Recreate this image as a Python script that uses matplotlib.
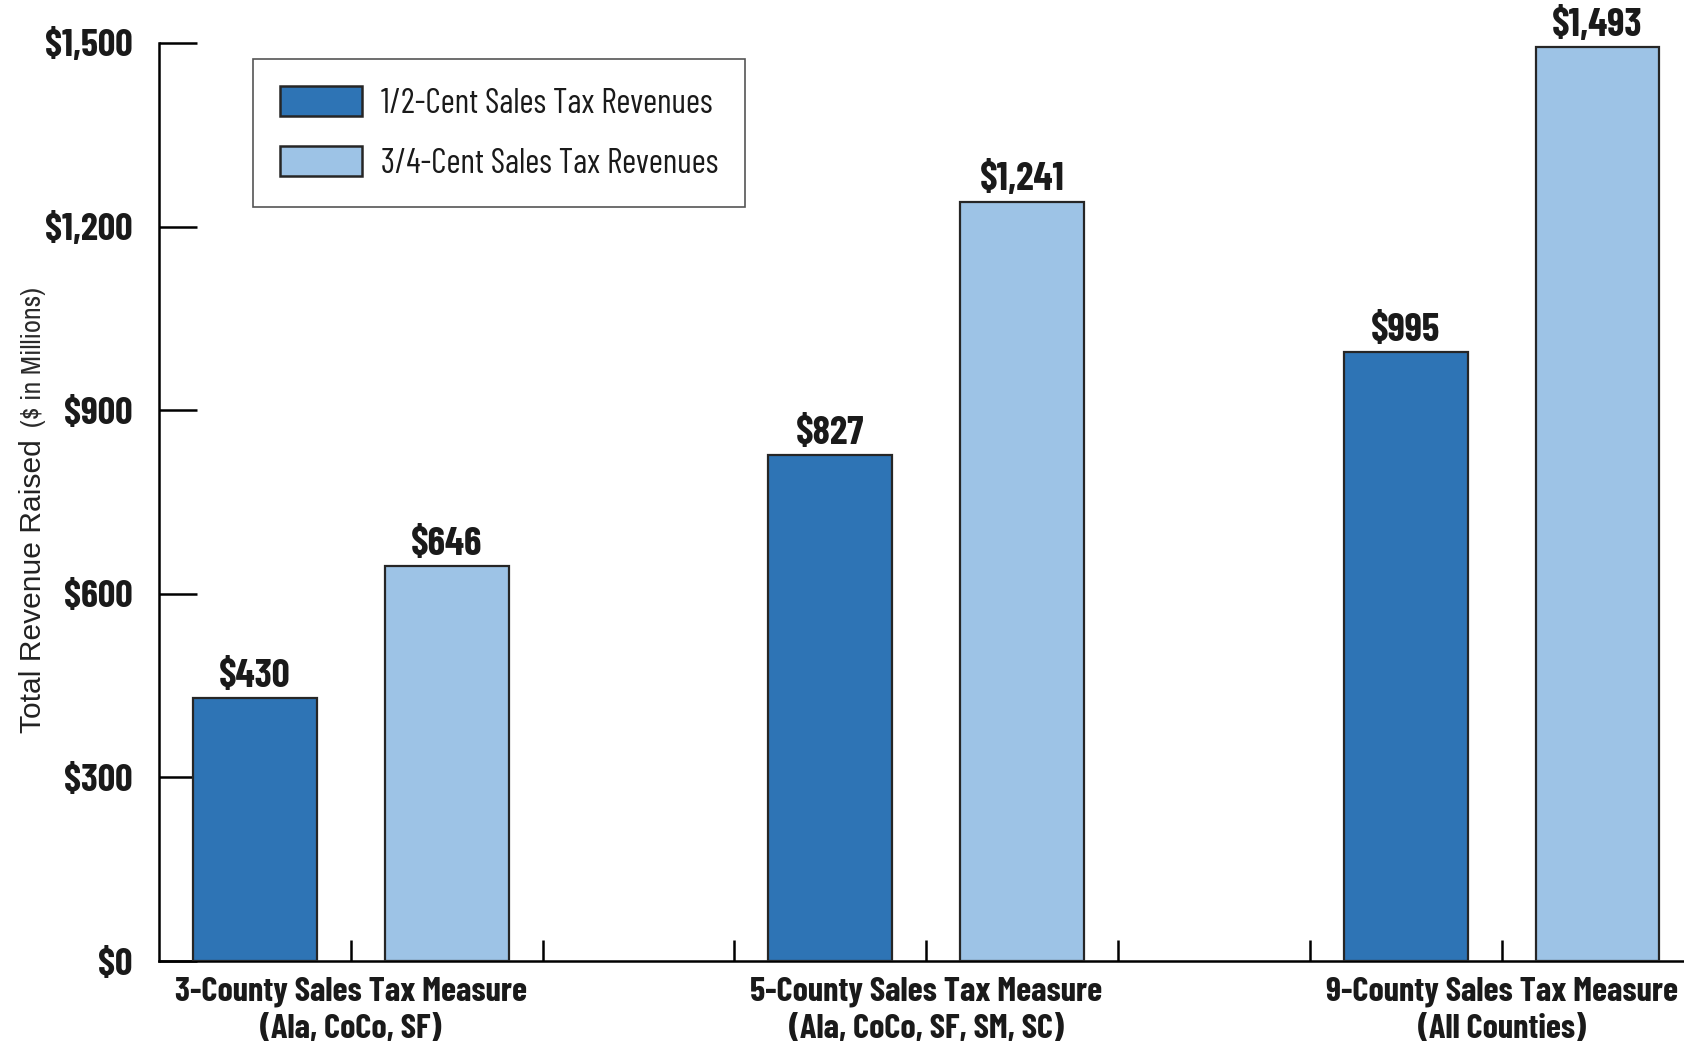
# -*- coding: utf-8 -*-
# Bay Area sales tax measures - revenue by tax rate (grouped bar chart)

import matplotlib
matplotlib.use("Agg")
import matplotlib.pyplot as plt
from matplotlib.patches import Patch

# ── data ─────────────────────────────────────────────
categories = [
    "3-County Sales Tax Measure\n(Ala, CoCo, SF)",
    "5-County Sales Tax Measure\n(Ala, CoCo, SF, SM, SC)",
    "9-County Sales Tax Measure\n(All Counties)",
]
series_names = ["1/2-Cent Sales Tax Revenues", "3/4-Cent Sales Tax Revenues"]
half_cent = [430, 827, 995]
three_quarter_cent = [646, 1241, 1493]
y_ticks = [0, 300, 600, 900, 1200, 1500]

DARK = "#2e74b5"
LIGHT = "#9dc3e6"
EDGE = "#262626"
INK = "#1a1a1a"
COND = ["Barlow Condensed", "DejaVu Sans"]

plt.rcParams["font.family"] = COND

W, H = 1684, 1044
fig = plt.figure(figsize=(W / 100, H / 100), dpi=100)
renderer = fig.canvas.get_renderer()


def fit_size(sample, target_px, **kw):
    """font size (pt) so that `sample` is target_px wide"""
    t = fig.text(0, 0, sample, fontsize=20, **kw)
    w = t.get_window_extent(renderer).width
    t.remove()
    return 20 * target_px / w


fs_cat = fit_size("3-County Sales Tax Measure", 352, fontweight="bold")
fs_val = fit_size("$430", 72, fontweight="bold")
fs_tick = fit_size("$1,500", 88, fontweight="bold")
fs_leg = fit_size(series_names[0], 332)
fs_yl1 = fit_size("Total Revenue Raised", 293, family=["Liberation Sans"])
fs_yl2 = fit_size("($ in Millions)", 140, family=["Archivo Narrow"])

ax = fig.add_axes([159 / W, 83 / H, (W - 159) / W, 918 / H])

# group centers at 1, 4, 7 ; bars at center -/+ 0.5
centers = [1 + 3 * i for i in range(len(categories))]
bar_w = 0.645
for vals, off, col in [(half_cent, -0.5, DARK), (three_quarter_cent, 0.5, LIGHT)]:
    xs = [c + off for c in centers]
    bars = ax.bar(xs, vals, width=bar_w, color=col, edgecolor=EDGE,
                  linewidth=1.6, zorder=3)
    for b, v in zip(bars, vals):
        ax.annotate(f"${v:,}", (b.get_x() + b.get_width() / 2, v),
                    xytext=(0, 8), textcoords="offset points",
                    ha="center", va="baseline", fontsize=fs_val,
                    fontweight="bold", color=INK)

ax.set_xlim(0, (W - 159) / 191.8)
ax.set_ylim(0, 1500)

# y axis
ax.set_yticks(y_ticks)
ax.set_yticklabels([f"${v:,}" for v in y_ticks], fontsize=fs_tick,
                   fontweight="bold", color=INK)
ax.tick_params(axis="y", direction="in", length=27, width=1.8, pad=19)

# x axis: separator ticks + category labels as minor ticks
ax.xaxis.remove_overlapping_locs = False
ax.set_xticks(range(1, 8))
ax.set_xticklabels([])
ax.tick_params(axis="x", which="major", direction="in", length=15, width=1.8)
ax.set_xticks(centers, minor=True)
ax.set_xticklabels(categories, minor=True, fontsize=fs_cat, fontweight="bold",
                   color=INK, linespacing=1.3)
ax.tick_params(axis="x", which="minor", length=0, pad=11)

for s in ["top", "right"]:
    ax.spines[s].set_visible(False)
for s in ["left", "bottom"]:
    ax.spines[s].set_linewidth(1.8)

# legend
F = fs_leg * 100 / 72  # font size in px
handles = [Patch(facecolor=DARK, edgecolor=EDGE, linewidth=1.8),
           Patch(facecolor=LIGHT, edgecolor=EDGE, linewidth=1.8)]
leg = ax.legend(handles, series_names, loc="upper left",
                bbox_to_anchor=((253 - 159) / (W - 159), (961 - 59) / 918),
                borderaxespad=0, fontsize=fs_leg,
                handlelength=82 / F, handleheight=33 / F,
                handletextpad=19 / F, borderpad=27 / F,
                labelspacing=0.45 + 11 / F,
                fancybox=False, framealpha=1, edgecolor="#555555")
leg.get_frame().set_linewidth(1.2)
for txt in leg.get_texts():
    txt.set_color(INK)

# y label in two styles
t1 = fig.text(33 / W, (H - 733) / H, "Total Revenue Raised",
              rotation=90, ha="center", va="bottom", fontsize=fs_yl1,
              family=["Liberation Sans", "DejaVu Sans"], color="#222222")
fig.canvas.draw()
bb = t1.get_window_extent()
fig.text(33 / W, (bb.y1 + 12) / H, "($ in Millions)",
         rotation=90, ha="center", va="bottom", fontsize=fs_yl2,
         family=["Archivo Narrow", "DejaVu Sans"], color="#2a2a2a")

fig.savefig("out.png", dpi=100)
plt.close(fig)
